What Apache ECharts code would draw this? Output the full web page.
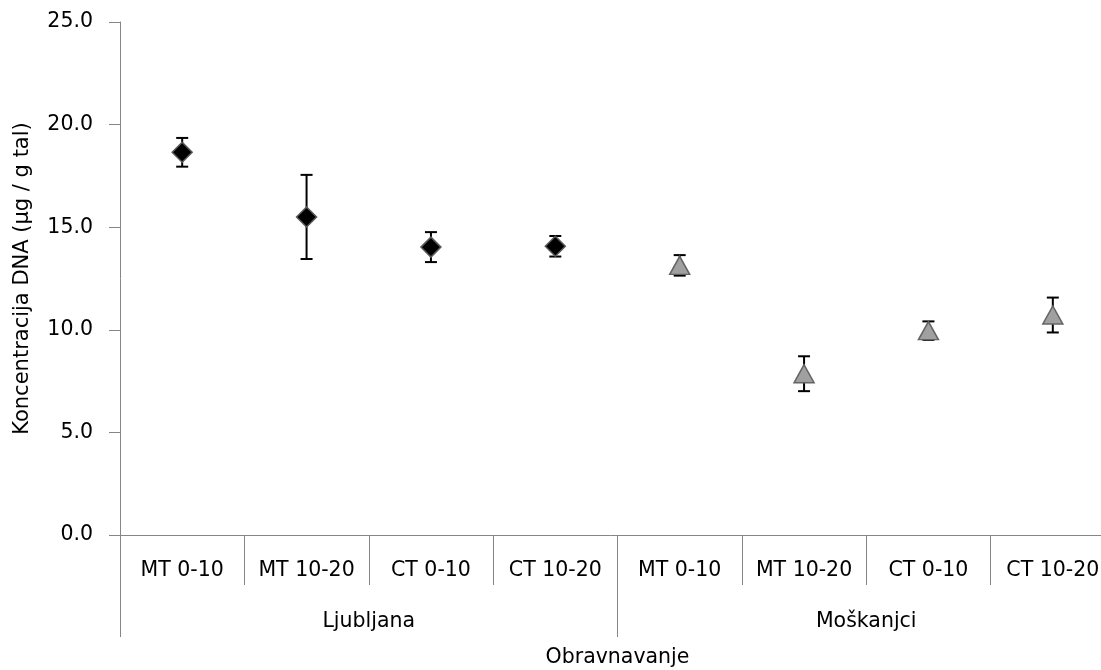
<!DOCTYPE html>
<html>
<head>
<meta charset="utf-8">
<script src="https://cdn.jsdelivr.net/npm/echarts@6/dist/echarts.min.js"></script>
<style>
  html, body { margin: 0; padding: 0; background: #fff; }
  #chart { width: 1101px; height: 670px; }
</style>
</head>
<body>
<div id="chart"></div>
<script>
// ---- data ----
var categories = ['MT 0-10', 'MT 10-20', 'CT 0-10', 'CT 10-20', 'MT 0-10', 'MT 10-20', 'CT 0-10', 'CT 10-20'];
var groups = ['Ljubljana', 'Moškanjci'];
var ljubljanaValues = [18.65, 15.5, 14.03, 14.07];
var ljubljanaErrors = [0.7, 2.05, 0.73, 0.5];
var moskanjciValues = [13.14, 7.86, 9.96, 10.72];
var moskanjciErrors = [0.5, 0.85, 0.45, 0.85];
var yTicks = [0, 5, 10, 15, 20, 25];

var FONT = 'DejaVu Sans';
var AXIS_COLOR = '#868686';

var ljData = ljubljanaValues.map(function (v, i) { return [i, v]; });
var moData = moskanjciValues.map(function (v, i) { return [i + ljubljanaValues.length, v]; });
var errData = ljubljanaValues.map(function (v, i) { return [i, v - ljubljanaErrors[i], v + ljubljanaErrors[i]]; })
  .concat(moskanjciValues.map(function (v, i) { return [i + ljubljanaValues.length, v - moskanjciErrors[i], v + moskanjciErrors[i]]; }));

var chart = echarts.init(document.getElementById('chart'), null, { renderer: 'canvas' });

var option = {
  backgroundColor: '#ffffff',
  animation: false,
  grid: { left: 120, top: 22, width: 995, height: 513, containLabel: false, outerBoundsMode: 'none' },
  xAxis: [
    {
      type: 'category',
      data: categories,
      position: 'bottom',
      boundaryGap: true,
      axisLine: { show: true, lineStyle: { color: AXIS_COLOR, width: 1 } },
      axisTick: { show: true, length: 50, interval: 0, lineStyle: { color: AXIS_COLOR, width: 1 } },
      axisLabel: { interval: 0, margin: 25, color: '#000', fontFamily: FONT, fontSize: 20.5 },
      splitLine: { show: false },
      name: 'Obravnavanje',
      nameLocation: 'middle',
      nameGap: 112,
      nameTextStyle: { color: '#000', fontFamily: FONT, fontSize: 20.5 }
    },
    {
      type: 'category',
      data: groups,
      position: 'bottom',
      boundaryGap: true,
      axisLine: { show: false },
      axisTick: { show: true, length: 102, interval: 0, lineStyle: { color: AXIS_COLOR, width: 1 } },
      axisLabel: { interval: 0, margin: 76, color: '#000', fontFamily: FONT, fontSize: 20.5 },
      splitLine: { show: false }
    }
  ],
  yAxis: {
    type: 'value',
    min: 0,
    max: 25,
    interval: 5,
    axisLine: { show: true, lineStyle: { color: AXIS_COLOR, width: 1 } },
    axisTick: { show: true, length: 11, lineStyle: { color: AXIS_COLOR, width: 1 } },
    axisLabel: {
      margin: 27, color: '#000', fontFamily: FONT, fontSize: 20.5,
      formatter: function (v) { return yTicks.indexOf(v) >= 0 ? v.toFixed(1) : ''; }
    },
    splitLine: { show: false },
    name: 'Koncentracija DNA (µg / g tal)',
    nameLocation: 'middle',
    nameGap: 87,
    nameTextStyle: { color: '#000', fontFamily: FONT, fontSize: 21 }
  },
  series: [
    {
      type: 'custom',
      name: 'err',
      xAxisIndex: 0,
      z: 1,
      data: errData,
      renderItem: function (params, api) {
        var x = api.value(0);
        var lo = api.coord([x, api.value(1)]);
        var hi = api.coord([x, api.value(2)]);
        var hw = 6;
        var style = { stroke: '#000', lineWidth: 2 };
        return {
          type: 'group',
          children: [
            { type: 'line', shape: { x1: hi[0], y1: hi[1], x2: lo[0], y2: lo[1] }, style: style },
            { type: 'line', shape: { x1: hi[0] - hw, y1: hi[1], x2: hi[0] + hw, y2: hi[1] }, style: style },
            { type: 'line', shape: { x1: lo[0] - hw, y1: lo[1], x2: lo[0] + hw, y2: lo[1] }, style: style }
          ]
        };
      }
    },
    {
      type: 'scatter',
      name: 'Ljubljana',
      xAxisIndex: 0,
      z: 3,
      symbol: 'diamond',
      symbolSize: [20, 20],
      itemStyle: { color: '#000000', borderColor: '#5a5a5a', borderWidth: 1.5, opacity: 1 },
      data: ljData
    },
    {
      type: 'scatter',
      name: 'Moškanjci',
      xAxisIndex: 0,
      z: 3,
      symbol: 'triangle',
      symbolSize: [20, 18],
      itemStyle: { color: '#a0a0a0', borderColor: '#646464', borderWidth: 1.5, opacity: 1 },
      data: moData
    }
  ]
};

chart.setOption(option);
</script>
</body>
</html>
